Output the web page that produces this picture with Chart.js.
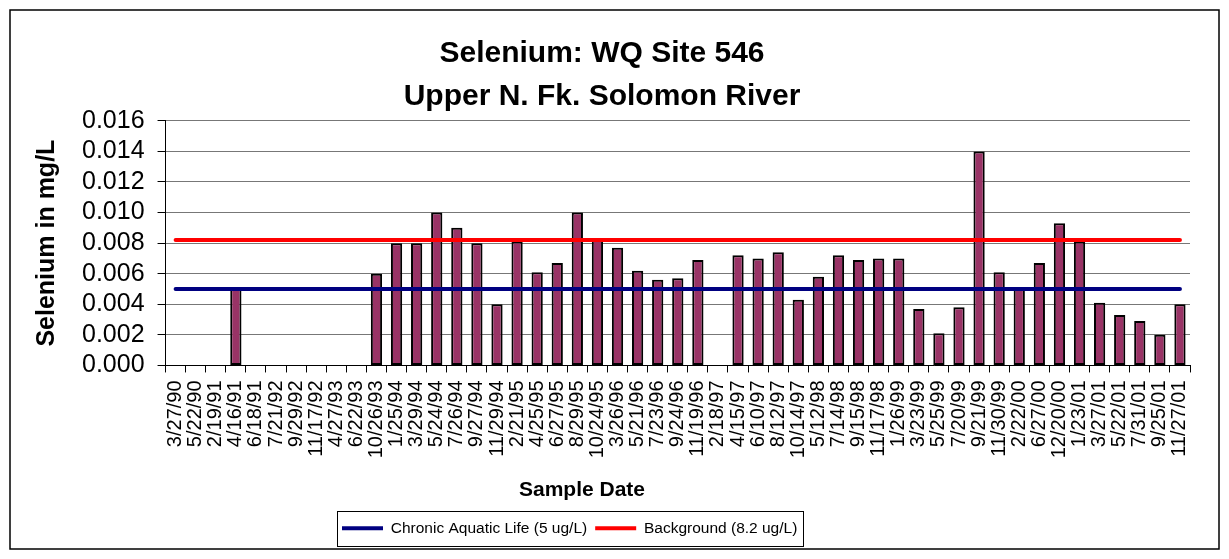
<!DOCTYPE html>
<html>
<head>
<meta charset="utf-8">
<script src="https://cdn.jsdelivr.net/npm/chart.js@4.4.1/dist/chart.umd.min.js"></script>
<style>
html,body{margin:0;padding:0;background:#fff;}
#wrap{width:1229px;height:559px;position:relative;}
</style>
</head>
<body>
<div id="wrap"><canvas id="c" width="1229" height="559"></canvas></div>
<script>
// ---------- data ----------
const dates = ['3/27/90','5/22/90','2/19/91','4/16/91','6/18/91','7/21/92','9/29/92','11/17/92','4/27/93','6/22/93',
  '10/26/93','1/25/94','3/29/94','5/24/94','7/26/94','9/27/94','11/29/94','2/21/95','4/25/95','6/27/95',
  '8/29/95','10/24/95','3/26/96','5/21/96','7/23/96','9/24/96','11/19/96','2/18/97','4/15/97','6/10/97',
  '8/12/97','10/14/97','5/12/98','7/14/98','9/15/98','11/17/98','1/26/99','3/23/99','5/25/99','7/20/99',
  '9/21/99','11/30/99','2/22/00','6/27/00','12/20/00','1/23/01','3/27/01','5/22/01','7/31/01','9/25/01','11/27/01'];
const selenium = [null,null,null,0.005,null,null,null,null,null,null,
  0.006,0.008,0.008,0.010,0.009,0.008,0.004,0.0081,0.0061,0.0067,
  0.010,0.0083,0.0077,0.0062,0.0056,0.0057,0.0069,null,0.0072,0.0070,
  0.0074,0.0043,0.0058,0.0072,0.0069,0.0070,0.0070,0.0037,0.0021,0.0038,
  0.014,0.0061,0.0051,0.0067,0.0093,0.0081,0.0041,0.0033,0.0029,0.0020,0.0040];
const yTickValues = [0,0.002,0.004,0.006,0.008,0.010,0.012,0.014,0.016];
const chronicLimit = 0.005;      // mg/L
const backgroundLevel = 0.0082;  // mg/L
const seriesNames = ['Chronic Aquatic Life (5 ug/L)', 'Background (8.2 ug/L)'];
const barName = 'Selenium';
const titleLines = ['Selenium: WQ Site 546', 'Upper N. Fk. Solomon River'];
const yTitle = 'Selenium in mg/L';
const xTitle = 'Sample Date';

// ---------- layout constants ----------
const legendStartX = 342;
const xTitleCenterX = 582;

Chart.defaults.font.family = "'Liberation Sans', Arial, Helvetica, sans-serif";
Chart.defaults.color = '#000';

const framePlugin = {
  id: 'frame',
  beforeDraw(chart){
    const ctx = chart.ctx;
    ctx.save();
    ctx.fillStyle = '#fff';
    ctx.fillRect(0,0,chart.width,chart.height);
    ctx.restore();
  },
  afterLayout(chart){
    const lg = chart.legend;
    if (lg && lg.lineWidths) {
      const pad = lg.options.labels.padding;
      const curX = (lg.left + pad + lg.right - lg.lineWidths[0]) / 2;
      const d = legendStartX - curX;
      lg.left += d; lg.right += d;
    }
    chart.boxes.forEach(b => {
      if (b !== chart.titleBlock && b.options && b.options.text === xTitle) {
        const d = xTitleCenterX - (b.left + b.right) / 2;
        b.left += d; b.right += d;
      }
    });
  },
  afterDraw(chart){
    const ctx = chart.ctx;
    ctx.save();
    ctx.strokeStyle = '#000';
    ctx.lineWidth = 1.5;
    ctx.strokeRect(10, 10, chart.width - 20, chart.height - 20);
    const hb = chart.legend && chart.legend.legendHitBoxes;
    if (hb && hb.length) {
      const first = hb[0], last = hb[hb.length-1];
      const cy = first.top + first.height / 2;
      const l = first.left - 5, r = last.left + last.width + 6;
      ctx.lineWidth = 1;
      ctx.strokeRect(Math.round(l)+0.5, Math.round(cy - 17.5)+0.5, Math.round(r - l), 35);
    }
    ctx.restore();
  }
};

const ctx = document.getElementById('c').getContext('2d');
new Chart(ctx, {
  type: 'bar',
  data: {
    labels: dates,
    datasets: [
      {type:'line', label: seriesNames[0], data: dates.map(() => chronicLimit),
       borderColor:'#000080', backgroundColor:'#000080', borderWidth:4, pointRadius:0,
       borderCapStyle:'round', order:0},
      {type:'line', label: seriesNames[1], data: dates.map(() => backgroundLevel),
       borderColor:'#ff0000', backgroundColor:'#ff0000', borderWidth:4, pointRadius:0,
       borderCapStyle:'round', order:0},
      {type:'bar', label: barName, data: selenium,
       backgroundColor:'#993366', borderColor:'#000', borderWidth:2, borderSkipped:false,
       barPercentage:0.56, categoryPercentage:1, order:1}
    ]
  },
  options: {
    responsive:false,
    animation:false,
    devicePixelRatio:1,
    layout:{padding:{left:14, right:39, top:20, bottom:13}},
    plugins:{
      tooltip:{enabled:false},
      title:{display:true, text:titleLines, color:'#000',
        font:{size:30, weight:'bold', lineHeight:1.447}, padding:{top:12, bottom:2}},
      subtitle:{display:true, text:xTitle, position:'bottom', weight:500, color:'#000',
        font:{size:21, weight:'bold', lineHeight:1.2}, padding:{top:11, bottom:10}},
      legend:{display:true, position:'bottom',
        labels:{filter:(item) => item.datasetIndex < 2, usePointStyle:true, pointStyle:'line',
          pointStyleWidth:41, padding:8, color:'#000', font:{size:15.5}}}
    },
    scales:{
      x:{
        offset:true,
        grid:{display:true, offset:true, drawOnChartArea:false, drawTicks:true, tickLength:7, color:'#000', lineWidth:1},
        border:{display:true, color:'#000', width:1},
        ticks:{autoSkip:false, maxRotation:90, minRotation:90, padding:8, color:'#000', font:{size:20}}
      },
      y:{
        min:0, max:0.016,
        afterBuildTicks:(scale) => { scale.ticks = yTickValues.map(v => ({value:v})); },
        grid:{color:'#777', lineWidth:1, drawTicks:true, tickLength:8, tickColor:'#000'},
        border:{display:true, color:'#000', width:1},
        ticks:{autoSkip:false, padding:13, color:'#000', font:{size:25}, callback:(v) => Number(v).toFixed(3)},
        title:{display:true, text:yTitle, color:'#000', font:{size:25, weight:'bold'}, padding:{top:18, bottom:7}}
      }
    }
  },
  plugins:[framePlugin]
});
</script>
</body>
</html>
